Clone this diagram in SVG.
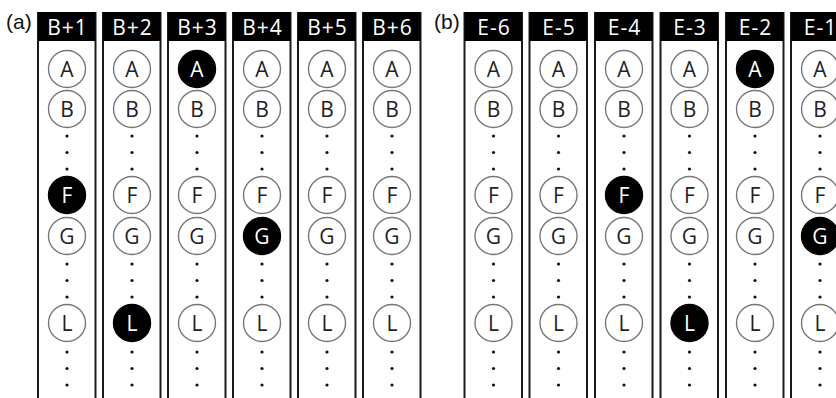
<svg xmlns="http://www.w3.org/2000/svg" width="836" height="398" viewBox="0 0 836 398">
<style>
.col{fill:#fff;stroke:#1a1a1a;stroke-width:2}
.hd{fill:#000}
.ht{fill:#fff;font-family:"Open Sans",sans-serif;font-size:21px;letter-spacing:1px;text-anchor:middle}
.c{fill:#fff;stroke:#777;stroke-width:1.4}
.cf{fill:#000;stroke:#000;stroke-width:1.4}
.t{fill:#222;font-family:"Open Sans",sans-serif;font-size:21px;text-anchor:middle}
.tf{fill:#fff;font-family:"Open Sans",sans-serif;font-size:21px;text-anchor:middle}
.lab{fill:#111;font-family:"Liberation Sans",sans-serif;font-size:21px}
</style>
<defs>
<g id="dots3"><circle cx="0" cy="0" r="1.6" fill="#111"/><circle cx="0" cy="16.5" r="1.6" fill="#111"/><circle cx="0" cy="33" r="1.6" fill="#111"/></g>
</defs>
<text class="lab" x="6" y="29">(a)</text>
<text class="lab" x="434" y="29">(b)</text>

<g id="B1" transform="translate(67,0)">
<rect class="col" x="-29" y="13" width="57.5" height="400"/><rect class="hd" x="-29" y="12" width="57.5" height="29"/><text class="ht" x="0.5" y="35">B+1</text>
<circle class="c" cx="0" cy="69" r="18.5"/><text class="t" x="0" y="76.5">A</text>
<circle class="c" cx="0" cy="109" r="18.5"/><text class="t" x="0" y="116.5">B</text>
<use href="#dots3" y="136"/>
<circle class="cf" cx="0" cy="195" r="18.5"/><text class="tf" x="0" y="202.5">F</text>
<circle class="c" cx="0" cy="236" r="18.5"/><text class="t" x="0" y="243.5">G</text>
<use href="#dots3" y="264"/>
<circle class="c" cx="0" cy="323" r="18.5"/><text class="t" x="0" y="330.5">L</text>
<use href="#dots3" y="352"/>
</g>
<g id="B2" transform="translate(132,0)">
<rect class="col" x="-29" y="13" width="57.5" height="400"/><rect class="hd" x="-29" y="12" width="57.5" height="29"/><text class="ht" x="0.5" y="35">B+2</text>
<circle class="c" cx="0" cy="69" r="18.5"/><text class="t" x="0" y="76.5">A</text>
<circle class="c" cx="0" cy="109" r="18.5"/><text class="t" x="0" y="116.5">B</text>
<use href="#dots3" y="136"/>
<circle class="c" cx="0" cy="195" r="18.5"/><text class="t" x="0" y="202.5">F</text>
<circle class="c" cx="0" cy="236" r="18.5"/><text class="t" x="0" y="243.5">G</text>
<use href="#dots3" y="264"/>
<circle class="cf" cx="0" cy="323" r="18.5"/><text class="tf" x="0" y="330.5">L</text>
<use href="#dots3" y="352"/>
</g>
<g id="B3" transform="translate(197,0)">
<rect class="col" x="-29" y="13" width="57.5" height="400"/><rect class="hd" x="-29" y="12" width="57.5" height="29"/><text class="ht" x="0.5" y="35">B+3</text>
<circle class="cf" cx="0" cy="69" r="18.5"/><text class="tf" x="0" y="76.5">A</text>
<circle class="c" cx="0" cy="109" r="18.5"/><text class="t" x="0" y="116.5">B</text>
<use href="#dots3" y="136"/>
<circle class="c" cx="0" cy="195" r="18.5"/><text class="t" x="0" y="202.5">F</text>
<circle class="c" cx="0" cy="236" r="18.5"/><text class="t" x="0" y="243.5">G</text>
<use href="#dots3" y="264"/>
<circle class="c" cx="0" cy="323" r="18.5"/><text class="t" x="0" y="330.5">L</text>
<use href="#dots3" y="352"/>
</g>
<g id="B4" transform="translate(262,0)">
<rect class="col" x="-29" y="13" width="57.5" height="400"/><rect class="hd" x="-29" y="12" width="57.5" height="29"/><text class="ht" x="0.5" y="35">B+4</text>
<circle class="c" cx="0" cy="69" r="18.5"/><text class="t" x="0" y="76.5">A</text>
<circle class="c" cx="0" cy="109" r="18.5"/><text class="t" x="0" y="116.5">B</text>
<use href="#dots3" y="136"/>
<circle class="c" cx="0" cy="195" r="18.5"/><text class="t" x="0" y="202.5">F</text>
<circle class="cf" cx="0" cy="236" r="18.5"/><text class="tf" x="0" y="243.5">G</text>
<use href="#dots3" y="264"/>
<circle class="c" cx="0" cy="323" r="18.5"/><text class="t" x="0" y="330.5">L</text>
<use href="#dots3" y="352"/>
</g>
<g id="B5" transform="translate(327,0)">
<rect class="col" x="-29" y="13" width="57.5" height="400"/><rect class="hd" x="-29" y="12" width="57.5" height="29"/><text class="ht" x="0.5" y="35">B+5</text>
<circle class="c" cx="0" cy="69" r="18.5"/><text class="t" x="0" y="76.5">A</text>
<circle class="c" cx="0" cy="109" r="18.5"/><text class="t" x="0" y="116.5">B</text>
<use href="#dots3" y="136"/>
<circle class="c" cx="0" cy="195" r="18.5"/><text class="t" x="0" y="202.5">F</text>
<circle class="c" cx="0" cy="236" r="18.5"/><text class="t" x="0" y="243.5">G</text>
<use href="#dots3" y="264"/>
<circle class="c" cx="0" cy="323" r="18.5"/><text class="t" x="0" y="330.5">L</text>
<use href="#dots3" y="352"/>
</g>
<g id="B6" transform="translate(392,0)">
<rect class="col" x="-29" y="13" width="57.5" height="400"/><rect class="hd" x="-29" y="12" width="57.5" height="29"/><text class="ht" x="0.5" y="35">B+6</text>
<circle class="c" cx="0" cy="69" r="18.5"/><text class="t" x="0" y="76.5">A</text>
<circle class="c" cx="0" cy="109" r="18.5"/><text class="t" x="0" y="116.5">B</text>
<use href="#dots3" y="136"/>
<circle class="c" cx="0" cy="195" r="18.5"/><text class="t" x="0" y="202.5">F</text>
<circle class="c" cx="0" cy="236" r="18.5"/><text class="t" x="0" y="243.5">G</text>
<use href="#dots3" y="264"/>
<circle class="c" cx="0" cy="323" r="18.5"/><text class="t" x="0" y="330.5">L</text>
<use href="#dots3" y="352"/>
</g>

<g id="E6" transform="translate(493.5,0)">
<rect class="col" x="-29" y="13" width="57.5" height="400"/><rect class="hd" x="-29" y="12" width="57.5" height="29"/><text class="ht" x="0.5" y="35">E-6</text>
<circle class="c" cx="0" cy="69" r="18.5"/><text class="t" x="0" y="76.5">A</text>
<circle class="c" cx="0" cy="109" r="18.5"/><text class="t" x="0" y="116.5">B</text>
<use href="#dots3" y="136"/>
<circle class="c" cx="0" cy="195" r="18.5"/><text class="t" x="0" y="202.5">F</text>
<circle class="c" cx="0" cy="236" r="18.5"/><text class="t" x="0" y="243.5">G</text>
<use href="#dots3" y="264"/>
<circle class="c" cx="0" cy="323" r="18.5"/><text class="t" x="0" y="330.5">L</text>
<use href="#dots3" y="352"/>
</g>
<g id="E5" transform="translate(558.5,0)">
<rect class="col" x="-29" y="13" width="57.5" height="400"/><rect class="hd" x="-29" y="12" width="57.5" height="29"/><text class="ht" x="0.5" y="35">E-5</text>
<circle class="c" cx="0" cy="69" r="18.5"/><text class="t" x="0" y="76.5">A</text>
<circle class="c" cx="0" cy="109" r="18.5"/><text class="t" x="0" y="116.5">B</text>
<use href="#dots3" y="136"/>
<circle class="c" cx="0" cy="195" r="18.5"/><text class="t" x="0" y="202.5">F</text>
<circle class="c" cx="0" cy="236" r="18.5"/><text class="t" x="0" y="243.5">G</text>
<use href="#dots3" y="264"/>
<circle class="c" cx="0" cy="323" r="18.5"/><text class="t" x="0" y="330.5">L</text>
<use href="#dots3" y="352"/>
</g>
<g id="E4" transform="translate(624,0)">
<rect class="col" x="-29" y="13" width="57.5" height="400"/><rect class="hd" x="-29" y="12" width="57.5" height="29"/><text class="ht" x="0.5" y="35">E-4</text>
<circle class="c" cx="0" cy="69" r="18.5"/><text class="t" x="0" y="76.5">A</text>
<circle class="c" cx="0" cy="109" r="18.5"/><text class="t" x="0" y="116.5">B</text>
<use href="#dots3" y="136"/>
<circle class="cf" cx="0" cy="195" r="18.5"/><text class="tf" x="0" y="202.5">F</text>
<circle class="c" cx="0" cy="236" r="18.5"/><text class="t" x="0" y="243.5">G</text>
<use href="#dots3" y="264"/>
<circle class="c" cx="0" cy="323" r="18.5"/><text class="t" x="0" y="330.5">L</text>
<use href="#dots3" y="352"/>
</g>
<g id="E3" transform="translate(689.5,0)">
<rect class="col" x="-29" y="13" width="57.5" height="400"/><rect class="hd" x="-29" y="12" width="57.5" height="29"/><text class="ht" x="0.5" y="35">E-3</text>
<circle class="c" cx="0" cy="69" r="18.5"/><text class="t" x="0" y="76.5">A</text>
<circle class="c" cx="0" cy="109" r="18.5"/><text class="t" x="0" y="116.5">B</text>
<use href="#dots3" y="136"/>
<circle class="c" cx="0" cy="195" r="18.5"/><text class="t" x="0" y="202.5">F</text>
<circle class="c" cx="0" cy="236" r="18.5"/><text class="t" x="0" y="243.5">G</text>
<use href="#dots3" y="264"/>
<circle class="cf" cx="0" cy="323" r="18.5"/><text class="tf" x="0" y="330.5">L</text>
<use href="#dots3" y="352"/>
</g>
<g id="E2" transform="translate(755,0)">
<rect class="col" x="-29" y="13" width="57.5" height="400"/><rect class="hd" x="-29" y="12" width="57.5" height="29"/><text class="ht" x="0.5" y="35">E-2</text>
<circle class="cf" cx="0" cy="69" r="18.5"/><text class="tf" x="0" y="76.5">A</text>
<circle class="c" cx="0" cy="109" r="18.5"/><text class="t" x="0" y="116.5">B</text>
<use href="#dots3" y="136"/>
<circle class="c" cx="0" cy="195" r="18.5"/><text class="t" x="0" y="202.5">F</text>
<circle class="c" cx="0" cy="236" r="18.5"/><text class="t" x="0" y="243.5">G</text>
<use href="#dots3" y="264"/>
<circle class="c" cx="0" cy="323" r="18.5"/><text class="t" x="0" y="330.5">L</text>
<use href="#dots3" y="352"/>
</g>
<g id="E1" transform="translate(820,0)">
<rect class="col" x="-29" y="13" width="57.5" height="400"/><rect class="hd" x="-29" y="12" width="57.5" height="29"/><text class="ht" x="0.5" y="35">E-1</text>
<circle class="c" cx="0" cy="69" r="18.5"/><text class="t" x="0" y="76.5">A</text>
<circle class="c" cx="0" cy="109" r="18.5"/><text class="t" x="0" y="116.5">B</text>
<use href="#dots3" y="136"/>
<circle class="c" cx="0" cy="195" r="18.5"/><text class="t" x="0" y="202.5">F</text>
<circle class="cf" cx="0" cy="236" r="18.5"/><text class="tf" x="0" y="243.5">G</text>
<use href="#dots3" y="264"/>
<circle class="c" cx="0" cy="323" r="18.5"/><text class="t" x="0" y="330.5">L</text>
<use href="#dots3" y="352"/>
</g>
<g id="connectors"/>
</svg>
